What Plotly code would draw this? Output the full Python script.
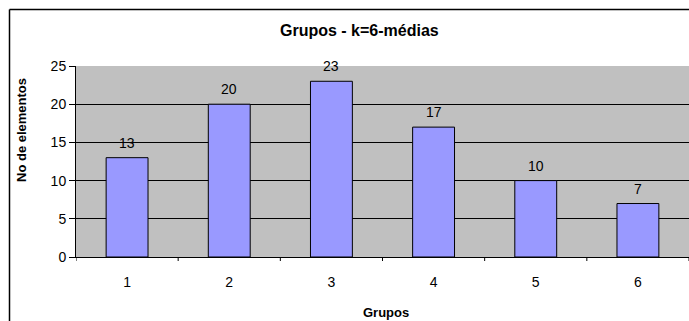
import plotly.graph_objects as go

# Cluster sizes for k=6 means
grupos = ["1", "2", "3", "4", "5", "6"]
elementos = [13, 20, 23, 17, 10, 7]
y_ticks = [0, 5, 10, 15, 20, 25]

W, H = 689, 321
L, R, T, B = 76, 0, 66, 64
PW, PH = W - L - R, H - T - B


def px_x(p):
    return (p - L) / PW


def px_y(p):
    return (H - B - p) / PH


FONT = "Liberation Sans, Arial, sans-serif"

fig = go.Figure(
    go.Bar(
        x=list(range(len(grupos))),
        y=elementos,
        width=0.41,
        marker=dict(color="#9999FF", line=dict(color="#000000", width=1)),
        hoverinfo="skip",
    )
)

# Value labels above each bar
for i, v in enumerate(elementos):
    fig.add_annotation(
        x=i, y=v, xref="x", yref="y", text=str(v), showarrow=False,
        xanchor="center", yanchor="bottom", yshift=5,
        font=dict(family=FONT, size=14, color="#000000"),
    )

fig.update_layout(
    width=W,
    height=H,
    margin=dict(l=L, r=R, t=T, b=B, pad=0),
    paper_bgcolor="#FFFFFF",
    plot_bgcolor="#C0C0C0",
    showlegend=False,
    font=dict(family=FONT, size=12, color="#000000"),
    xaxis=dict(
        range=[-0.5, 5.5],
        tickmode="array",
        tickvals=list(range(len(grupos))),
        ticktext=grupos,
        showgrid=False,
        showline=True,
        linecolor="#000000",
        linewidth=1,
        ticks="",
        ticklabelstandoff=12,
        tickfont=dict(family=FONT, size=14),
        fixedrange=True,
    ),
    yaxis=dict(
        range=[0, 25],
        tickmode="array",
        tickvals=y_ticks,
        showgrid=True,
        gridcolor="#000000",
        gridwidth=1,
        zeroline=False,
        showline=True,
        linecolor="#000000",
        linewidth=1,
        ticks="outside",
        ticklen=6,
        tickcolor="#000000",
        tickfont=dict(family=FONT, size=14),
        fixedrange=True,
    ),
)

# Category separator ticks below the x axis
for i in range(len(grupos) + 1):
    fig.add_shape(
        type="line", xref="x", yref="paper",
        x0=i - 0.5, x1=i - 0.5, y0=0, y1=px_y(261),
        line=dict(color="#000000", width=1),
    )

# Outer chart frame (left and top edges)
fig.add_shape(type="line", xref="paper", yref="paper",
              x0=px_x(9.5), x1=px_x(700), y0=px_y(9.5), y1=px_y(9.5),
              line=dict(color="#000000", width=1.5))
fig.add_shape(type="line", xref="paper", yref="paper",
              x0=px_x(9.5), x1=px_x(9.5), y0=px_y(9.5), y1=px_y(340),
              line=dict(color="#000000", width=1.5))

# Titles
fig.add_annotation(text="<b>Grupos - k=6-médias</b>", xref="paper", yref="paper",
                   x=px_x(359), y=px_y(30), showarrow=False,
                   font=dict(family=FONT, size=16), xanchor="center", yanchor="middle")
fig.add_annotation(text="<b>Grupos</b>", xref="paper", yref="paper",
                   x=px_x(386), y=px_y(312), showarrow=False,
                   font=dict(family=FONT, size=13), xanchor="center", yanchor="middle")
fig.add_annotation(text="<b>No de elementos</b>", xref="paper", yref="paper",
                   x=px_x(21), y=px_y(130), showarrow=False, textangle=-90,
                   font=dict(family=FONT, size=13), xanchor="center", yanchor="middle")

fig.write_html("out.html")
